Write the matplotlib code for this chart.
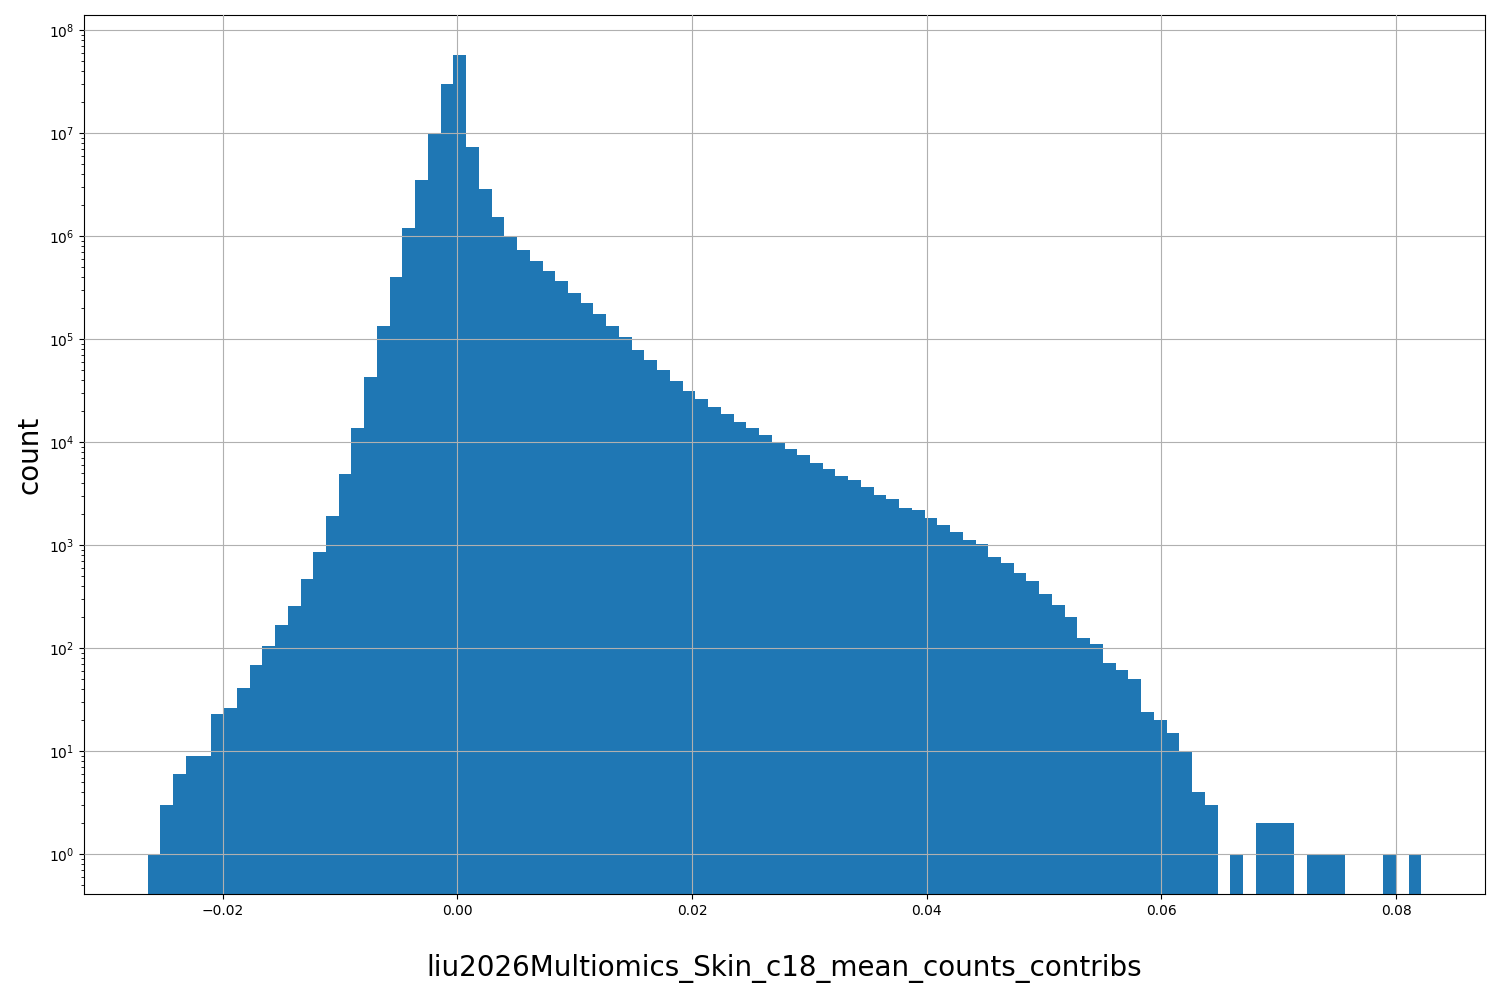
import numpy as np
import matplotlib
matplotlib.use("Agg")
import matplotlib.pyplot as plt

# histogram range and bin count
x_min = -0.0264
x_max = 0.08215
n_bins = 100

counts = [
    1, 3, 6, 9, 9, 23, 26, 41, 69, 105,
    168, 258, 471, 861, 1925, 4920, 13770, 43000, 134600, 403000,
    1205000, 3520000, 9840000, 30100000, 57600000, 7360000, 2880000, 1540000, 985000, 736000,
    576000, 460000, 368000, 282000, 225000, 176000, 135000, 105000, 78700, 63000,
    50400, 39400, 31500, 26300, 22000, 18800, 15700, 13800, 11800, 10000,
    8600, 7530, 6300, 5510, 4710, 4305, 3680, 3080, 2815, 2300,
    2200, 1840, 1575, 1346, 1125, 1030, 770, 673, 538, 450,
    337, 263, 201, 126, 110, 72, 61, 50, 24, 20,
    15, 10, 4, 3, 0, 1, 0, 2, 2, 2,
    0, 1, 1, 1, 0, 0, 0, 1, 0, 1,
]

x_label = "liu2026Multiomics_Skin_c18_mean_counts_contribs"
y_label = "count"

edges = np.linspace(x_min, x_max, n_bins + 1)
centers = 0.5 * (edges[:-1] + edges[1:])

fig = plt.figure(figsize=(15, 10), dpi=100)
ax = fig.add_axes([0.056, 0.106, 0.934, 0.879])
ax.hist(centers, bins=edges, weights=counts, color="#1f77b4")
ax.set_yscale("log")
ax.grid(True)
ax.set_axisbelow(False)
ax.set_xlabel(x_label, fontsize=20, labelpad=26)
ax.set_ylabel(y_label, fontsize=20)
fig.savefig("out.png", dpi=100)
